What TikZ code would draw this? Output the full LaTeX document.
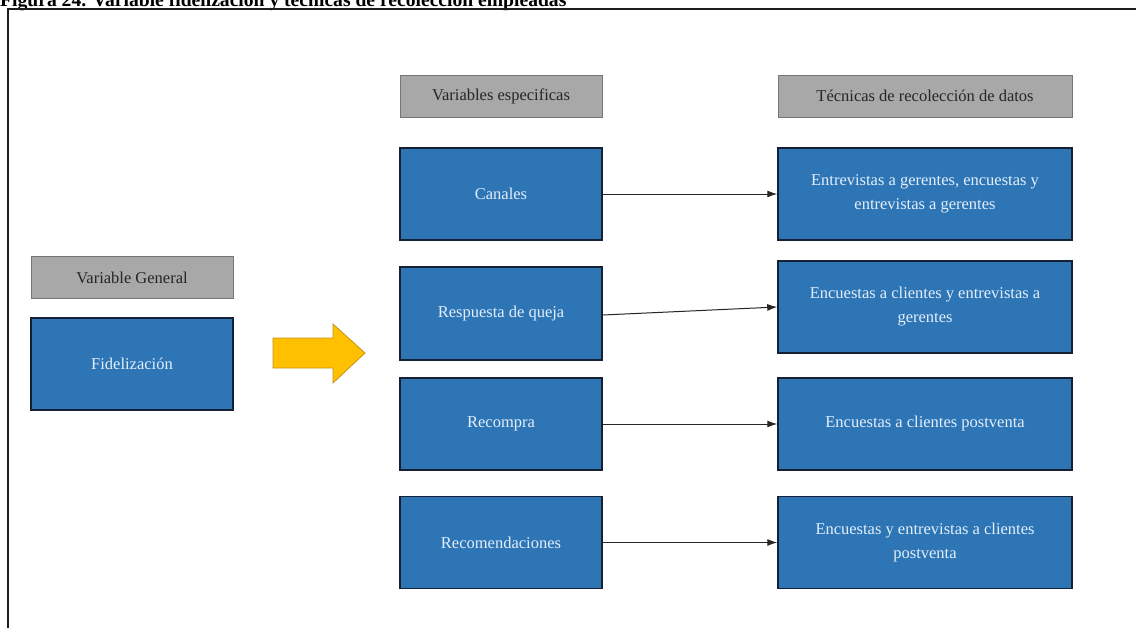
\documentclass[tikz,border=0pt]{standalone}
\usepackage{fontspec}
\setmainfont{Liberation Serif}
\usetikzlibrary{arrows.meta}

\definecolor{boxblue}{RGB}{46,117,182}
\definecolor{boxedge}{RGB}{22,32,52}
\definecolor{headgray}{RGB}{168,168,168}
\definecolor{headedge}{RGB}{118,118,118}
\definecolor{boxtext}{RGB}{226,238,250}
\definecolor{arrowyellow}{RGB}{255,192,0}
\definecolor{arrowedge}{RGB}{196,148,24}
\definecolor{framecol}{RGB}{30,30,30}

\begin{document}
\begin{tikzpicture}[x=1pt,y=-1pt,
  header/.style={draw=headedge, fill=headgray, line width=1pt,
    minimum height=42pt, inner sep=0pt, text=black!85,
    font=\fontsize{16.5}{19}\selectfont},
  bluebox/.style={draw=boxedge, fill=boxblue, line width=1.5pt,
    minimum height=92pt, inner sep=0pt, text=boxtext, align=center,
    font=\fontsize{16.5}{24}\selectfont},
  leftcol/.style={minimum width=202pt},
  rightcol/.style={minimum width=294pt},
  link/.style={draw=black!85, line width=1pt, -{Latex[length=10pt,width=7pt]}}
]
\useasboundingbox (0,0) rectangle (1136,627);
\clip (0,0) rectangle (1136,627);
\fill[white] (0,0) rectangle (1136,627);

% caption, partly cut off by the page edge
\node[anchor=base west, inner sep=0pt, font=\fontsize{19.6}{22}\selectfont\bfseries]
  (caption) at (0,6) {Figura 24. Variable fidelización y técnicas de recolección empleadas};

% outer frame
\draw[framecol, line width=2pt] (8,640) -- (8,9) -- (1150,9);

% general variable
\node[header, leftcol] (vg) at (132,277.5) {Variable General};
\node[bluebox, leftcol] (fid) at (132,364) {Fidelización};

% broad arrow towards the specific variables
\fill[arrowyellow, draw=arrowedge, line width=0.8pt]
  (273,338) -- (333,338) -- (333,324) -- (365,353) -- (333,383) -- (333,368) -- (273,368) -- cycle;

% column headers
\node[header, leftcol] (ve) at (501,96) {Variables especificas};
\node[header, rightcol] (tec) at (925,96) {Técnicas de recolección de datos};

% specific variables
\node[bluebox, leftcol] (v1) at (501,194) {Canales};
\node[bluebox, leftcol, minimum height=93pt] (v2) at (501,313.5) {Respuesta de queja};
\node[bluebox, leftcol] (v3) at (501,424) {Recompra};
\node[bluebox, leftcol] (v4) at (501,542.5) {Recomendaciones};

% data collection techniques
\node[bluebox, rightcol] (t1) at (925,194) {Entrevistas a gerentes, encuestas y\\entrevistas a gerentes};
\node[bluebox, rightcol] (t2) at (925,307) {Encuestas a clientes y entrevistas a\\gerentes};
\node[bluebox, rightcol] (t3) at (925,424) {Encuestas a clientes postventa};
\node[bluebox, rightcol] (t4) at (925,542.5) {Encuestas y entrevistas a clientes\\postventa};

% connectors
\draw[link] (v1) -- (t1);
\draw[link] ([yshift=-1.5pt]v2.east) -- (t2.west);
\draw[link] (v3) -- (t3);
\draw[link] (v4) -- (t4);
\end{tikzpicture}
\end{document}
